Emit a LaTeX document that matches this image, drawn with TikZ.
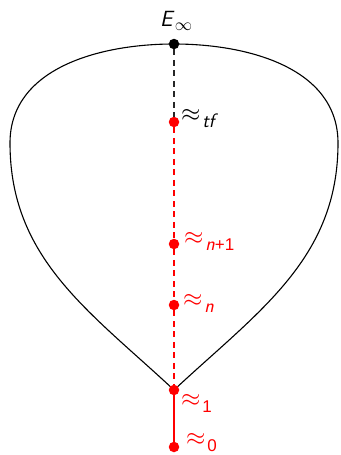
\documentclass[tikz,border=0pt]{standalone}
\usepackage{fontspec}
\newfontfamily\digfont{Liberation Sans}
\newcommand{\sfi}[1]{\textsf{\itshape #1}}
\newcommand{\sfu}[1]{{\digfont\fontsize{17}{19}\selectfont #1}}
\newcommand{\apx}[1]{$\approx$\kern1.8pt\raisebox{-6pt}{\fontsize{19.5}{22}\selectfont #1}}
\begin{document}
\begin{tikzpicture}[x=1pt,y=-1pt,
  dot/.style={circle,fill=#1,inner sep=0pt,minimum size=10.5pt},
  lbl/.style={anchor=base west,inner sep=0pt,text=#1,font=\fontsize{23}{28}\selectfont},
  curve/.style={line width=1.1pt,black},
  dashline/.style={line width=1.3pt,dash pattern=on 6pt off 4.5pt}]
\useasboundingbox (0,0) rectangle (340,455);
% outline
\coordinate (bot) at (174,390);
\coordinate (lft) at (10,143);
\coordinate (top) at (174,44);
\coordinate (rgt) at (338,143);
\draw[curve] (bot) to[out=137,in=-90] (lft) to[out=90,in=180] (top)
  to[out=0,in=90] (rgt) to[out=-90,in=43] (bot);
% points
\node[dot=black] (E) at (174,44) {};
\node[dot=red] (tf) at (174,122) {};
\node[dot=red] (np) at (174,244) {};
\node[dot=red] (n) at (174,305) {};
\node[dot=red] (one) at (174,390) {};
\node[dot=red] (zero) at (174,447) {};
% connectors
\draw[dashline,black!85] (E) -- (tf);
\draw[dashline,red] (tf) -- (np);
\draw[dashline,red] (np) -- (n);
\draw[dashline,red] (n) -- (one);
\draw[line width=1.3pt,red] (one) -- (zero);
% labels
\node[lbl=black] (lE) at (160,27) {\fontsize{22}{26}\selectfont\sfi{E}\kern0.3pt\raisebox{-4pt}{\fontsize{18}{20}\selectfont$\infty$}};
\node[lbl=black] (ltf) at (181,121) {\apx{\sfi{tf}}};
\node[lbl=red] (lnp) at (184,244) {\apx{\sfi{n}\sfu{+1}}};
\node[lbl=red] (ln) at (183,306) {\apx{\sfi{n}}};
\node[lbl=red] (lone) at (181,406) {\apx{\sfu{1}}};
\node[lbl=red] (lzero) at (186,445.5) {\apx{\sfu{0}}};
\end{tikzpicture}
\end{document}
